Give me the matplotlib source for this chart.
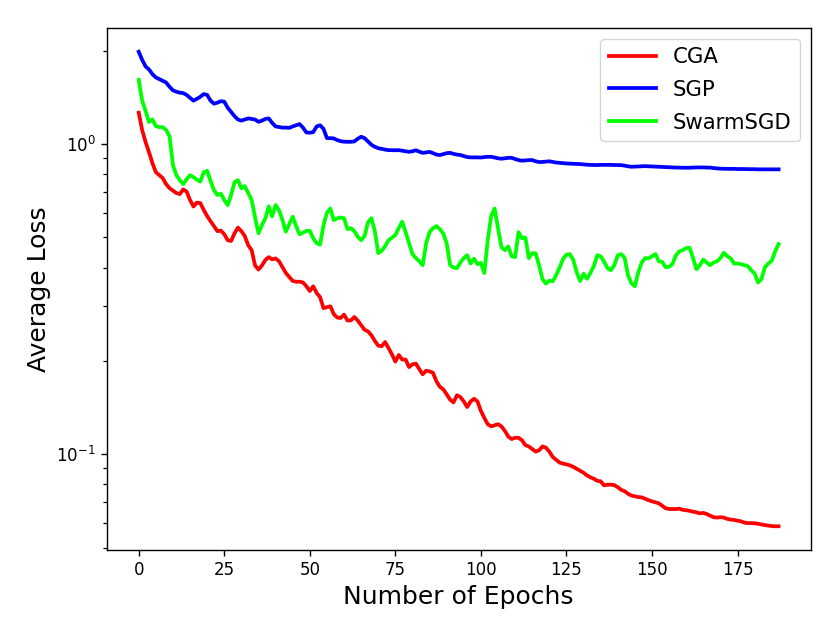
import numpy as np
import matplotlib
matplotlib.use('Agg')
import matplotlib.pyplot as plt

# Average loss per epoch
cga = [
    1.262, 1.11, 1.015, 0.942, 0.868, 0.812, 0.794, 0.777, 0.743, 0.721,
    0.708, 0.695, 0.690, 0.714, 0.703, 0.660, 0.629, 0.648, 0.645, 0.613,
    0.586, 0.564, 0.544, 0.524, 0.526, 0.512, 0.490, 0.487, 0.516, 0.538,
    0.524, 0.505, 0.472, 0.455, 0.406, 0.394, 0.406, 0.423, 0.432, 0.425,
    0.428, 0.419, 0.401, 0.384, 0.373, 0.362, 0.360, 0.360, 0.358, 0.348,
    0.336, 0.348, 0.331, 0.321, 0.296, 0.298, 0.300, 0.283, 0.276, 0.275,
    0.282, 0.270, 0.270, 0.277, 0.270, 0.261, 0.252, 0.249, 0.242, 0.232,
    0.224, 0.223, 0.230, 0.220, 0.210, 0.199, 0.209, 0.202, 0.202, 0.191,
    0.195, 0.196, 0.188, 0.181, 0.186, 0.185, 0.183, 0.172, 0.165, 0.162,
    0.156, 0.150, 0.147, 0.155, 0.153, 0.148, 0.142, 0.148, 0.151, 0.148,
    0.138, 0.131, 0.125, 0.123, 0.124, 0.125, 0.123, 0.119, 0.114, 0.112,
    0.113, 0.113, 0.111, 0.107, 0.106, 0.104, 0.102, 0.103, 0.106, 0.105,
    0.102, 0.098, 0.096, 0.094, 0.0933, 0.0928, 0.0921, 0.0911, 0.0898, 0.0885,
    0.0872, 0.0855, 0.0843, 0.0834, 0.0821, 0.0818, 0.0794, 0.0798, 0.0798, 0.0795,
    0.0783, 0.0768, 0.0760, 0.0746, 0.0736, 0.0732, 0.0728, 0.0726, 0.0719, 0.0711,
    0.0705, 0.0700, 0.0695, 0.0682, 0.0670, 0.0666, 0.0666, 0.0666, 0.0668, 0.0662,
    0.0660, 0.0657, 0.0653, 0.0650, 0.0645, 0.0647, 0.0642, 0.0634, 0.0627, 0.0625,
    0.0627, 0.0625, 0.0619, 0.0616, 0.0614, 0.0611, 0.0608, 0.0602, 0.0600, 0.0600,
    0.0599, 0.0597, 0.0594, 0.0591, 0.0589, 0.0587, 0.0586, 0.0586,
]

sgp = [
    1.985, 1.87, 1.78, 1.74, 1.68, 1.64, 1.62, 1.60, 1.58, 1.53,
    1.49, 1.475, 1.465, 1.46, 1.44, 1.41, 1.38, 1.40, 1.42, 1.45,
    1.44, 1.38, 1.35, 1.36, 1.375, 1.37, 1.31, 1.27, 1.23, 1.20,
    1.19, 1.20, 1.21, 1.205, 1.20, 1.18, 1.19, 1.205, 1.21, 1.17,
    1.14, 1.135, 1.13, 1.13, 1.128, 1.14, 1.15, 1.16, 1.13, 1.09,
    1.088, 1.093, 1.14, 1.15, 1.12, 1.045, 1.045, 1.043, 1.03, 1.022,
    1.018, 1.017, 1.017, 1.02, 1.04, 1.056, 1.045, 1.02, 0.995, 0.98,
    0.97, 0.965, 0.96, 0.956, 0.956, 0.955, 0.956, 0.952, 0.948, 0.944,
    0.948, 0.955, 0.945, 0.937, 0.94, 0.944, 0.935, 0.925, 0.922, 0.928,
    0.935, 0.937, 0.93, 0.925, 0.922, 0.915, 0.908, 0.906, 0.906, 0.906,
    0.905, 0.908, 0.91, 0.91, 0.905, 0.90, 0.897, 0.90, 0.903, 0.903,
    0.895, 0.888, 0.884, 0.886, 0.888, 0.888, 0.88, 0.875, 0.876, 0.878,
    0.880, 0.876, 0.872, 0.870, 0.868, 0.866, 0.865, 0.864, 0.863, 0.862,
    0.860, 0.858, 0.857, 0.856, 0.856, 0.857, 0.857, 0.857, 0.857, 0.856,
    0.856, 0.855, 0.852, 0.848, 0.845, 0.846, 0.847, 0.848, 0.849, 0.848,
    0.847, 0.846, 0.845, 0.844, 0.843, 0.842, 0.841, 0.840, 0.840, 0.839,
    0.839, 0.839, 0.840, 0.841, 0.841, 0.841, 0.840, 0.840, 0.837, 0.835,
    0.833, 0.833, 0.832, 0.832, 0.832, 0.831, 0.831, 0.831, 0.830, 0.830,
    0.830, 0.829, 0.829, 0.829, 0.829, 0.829, 0.829, 0.829,
]

swarmsgd = [
    1.61, 1.38, 1.278, 1.178, 1.20, 1.143, 1.134, 1.134, 1.11, 1.061,
    0.856, 0.794, 0.765, 0.743, 0.771, 0.794, 0.782, 0.768, 0.757, 0.812,
    0.820, 0.760, 0.710, 0.685, 0.692, 0.660, 0.636, 0.685, 0.754, 0.765,
    0.720, 0.732, 0.695, 0.660, 0.580, 0.516, 0.548, 0.576, 0.630, 0.585,
    0.636, 0.612, 0.569, 0.522, 0.552, 0.583, 0.544, 0.512, 0.518, 0.525,
    0.525, 0.497, 0.479, 0.474, 0.548, 0.600, 0.620, 0.569, 0.576, 0.580,
    0.577, 0.532, 0.536, 0.524, 0.503, 0.490, 0.505, 0.559, 0.577, 0.524,
    0.445, 0.453, 0.468, 0.490, 0.499, 0.509, 0.536, 0.562, 0.520, 0.479,
    0.442, 0.429, 0.419, 0.407, 0.479, 0.520, 0.536, 0.544, 0.532, 0.515,
    0.479, 0.407, 0.400, 0.398, 0.415, 0.429, 0.438, 0.412, 0.427, 0.410,
    0.414, 0.384, 0.490, 0.585, 0.620, 0.536, 0.465, 0.455, 0.468, 0.435,
    0.432, 0.520, 0.497, 0.500, 0.429, 0.445, 0.444, 0.407, 0.367, 0.355,
    0.363, 0.361, 0.378, 0.400, 0.426, 0.440, 0.442, 0.423, 0.386, 0.362,
    0.382, 0.368, 0.384, 0.404, 0.438, 0.435, 0.418, 0.398, 0.392, 0.407,
    0.438, 0.442, 0.430, 0.378, 0.356, 0.348, 0.386, 0.415, 0.429, 0.428,
    0.435, 0.442, 0.419, 0.417, 0.401, 0.402, 0.411, 0.438, 0.451, 0.455,
    0.462, 0.463, 0.429, 0.395, 0.407, 0.424, 0.415, 0.407, 0.415, 0.419,
    0.429, 0.446, 0.435, 0.428, 0.412, 0.412, 0.410, 0.407, 0.404, 0.392,
    0.383, 0.358, 0.367, 0.401, 0.412, 0.421, 0.451, 0.476,
]

series = [('CGA', cga, 'red'), ('SGP', sgp, 'blue'), ('SwarmSGD', swarmsgd, 'lime')]

fig = plt.figure(figsize=(8.3, 6.42), dpi=100)
ax = fig.add_axes([0.1286, 0.1433, 0.848, 0.8131])

for nome, valores, cor in series:
    ax.plot(np.arange(len(valores)), valores, color=cor, linewidth=2.7, label=nome)

ax.set_yscale('log')
ax.set_xlabel('Number of Epochs', fontsize=18)
ax.set_ylabel('Average Loss', fontsize=18)
ax.tick_params(axis='both', which='major', labelsize=12, length=4.5, width=1.0)
ax.tick_params(axis='both', which='minor', length=2.6, width=0.9)
for spine in ax.spines.values():
    spine.set_linewidth(1.0)

ax.legend(loc='upper right', fontsize=15.3, labelspacing=0.6, handlelength=2.2)

fig.savefig('out.png', dpi=100)
plt.close(fig)
